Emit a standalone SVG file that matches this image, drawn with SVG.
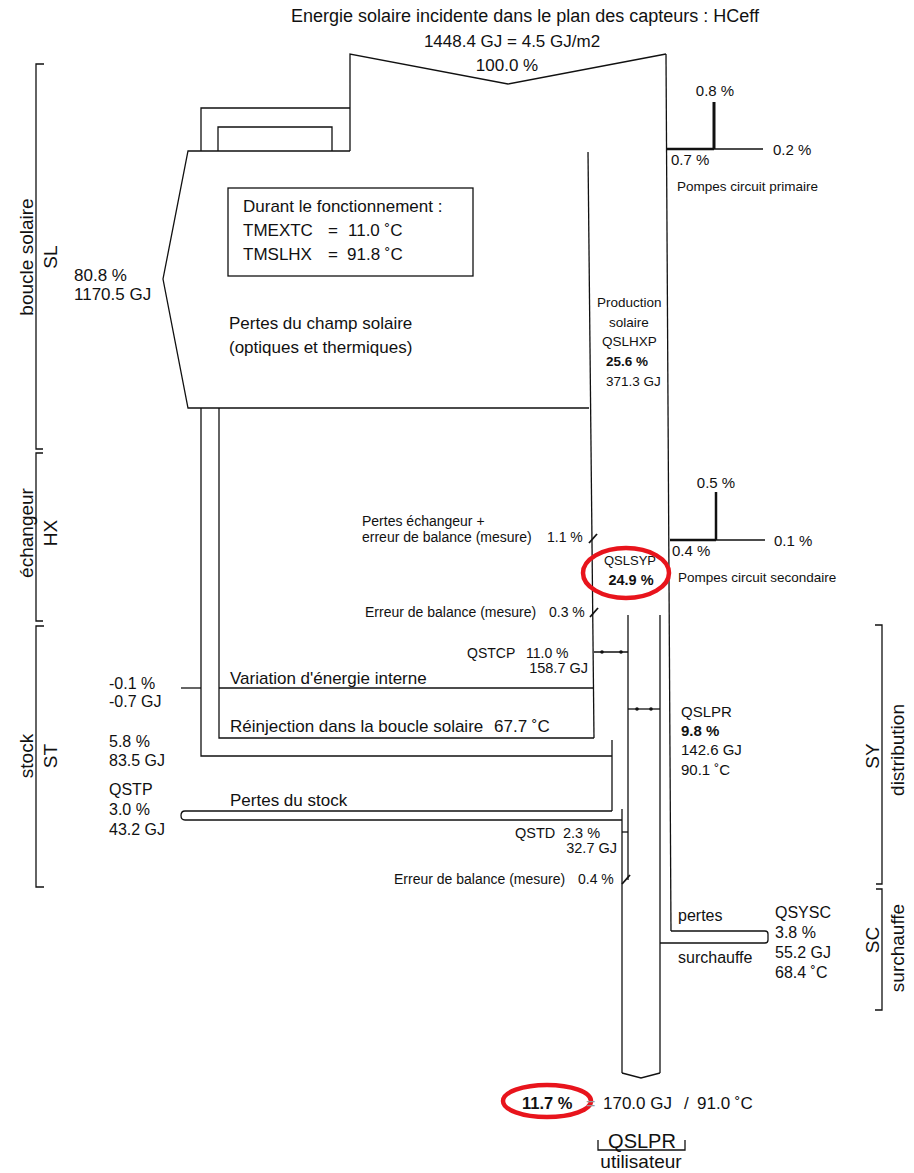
<svg xmlns="http://www.w3.org/2000/svg" width="914" height="1173" viewBox="0 0 914 1173">
<style>
  .ln{fill:none;stroke:#111;stroke-width:1.3;stroke-linejoin:miter}
  .thk{fill:none;stroke:#111;stroke-width:2.4}
  .t{font-family:"Liberation Sans",Arial,sans-serif;fill:#111}
  .f17{font-size:17px}
  .f16{font-size:16px}
  .f15{font-size:15px}
  .f14{font-size:14px}
  .f145{font-size:14.5px}
  .f13{font-size:13.5px}
  .b{font-weight:bold}
  .rot{font-family:"Liberation Sans",Arial,sans-serif;fill:#111;font-size:19px;text-anchor:middle}
  .red{fill:none;stroke:#e8141c;stroke-width:4.5}
  .dot{fill:#111}
</style>
<rect width="914" height="1173" fill="#fff"/>

<g id="connectors">
  <!-- incident energy arrow -->
  <path class="ln" d="M350,151 V54 L508,84 L666,54"/>
  <path class="ln" d="M666,54 L671,931"/>
  <!-- solar field losses arrow -->
  <path class="ln" d="M350,151 H188 L163,279 L188,408 H589"/>
  <path class="ln" d="M588,152 L594,738"/>
  <!-- loops -->
  <path class="ln" d="M201,151 V108 H350"/>
  <path class="ln" d="M218,151 V127 H332 V151"/>
  <path class="ln" d="M201,408 V756 H612"/>
  <path class="ln" d="M612,740 V811"/>
  <path class="ln" d="M219,408 V738 H594"/>
  <path class="ln" d="M219,688 H594"/>
  <path class="ln" d="M181,688 H201"/>
  <!-- stock losses -->
  <path class="ln" d="M612,811 H185 Q181,811 181,815.5 Q181,820 185,820 H622"/>
  <path class="ln" d="M622,809 V1073"/>
  <!-- distribution column -->
  <path class="ln" d="M628,615 V880"/>
  <path class="ln" d="M660,615 V1073"/>
  <path class="ln" d="M622,1073 L641,1078 L660,1073"/>
  <path class="ln" d="M622,832 H628"/>
  <!-- surchauffe -->
  <path class="ln" d="M671,931 H765 Q768,931 768,934 V940 Q768,943 765,943 H660"/>
  <!-- flows with dots -->
  <path class="ln" d="M594,652 H628"/>
  <circle class="dot" cx="602" cy="652" r="1.8"/>
  <circle class="dot" cx="621" cy="652" r="1.8"/>
  <path class="ln" d="M628,709 H660"/>
  <circle class="dot" cx="637" cy="709" r="1.8"/>
  <circle class="dot" cx="651" cy="709" r="1.8"/>
  <!-- break ticks -->
  <path class="ln" style="stroke-width:1.8" d="M589,543 L597,534"/>
  <path class="ln" style="stroke-width:1.8" d="M590,617 L598,608"/>
  <path class="ln" style="stroke-width:1.8" d="M622,884 L630,875"/>
  <!-- pumps primary -->
  <path class="thk" d="M667,149 H714"/>
  <path class="ln" d="M714,149 H763"/>
  <path class="ln" style="stroke-width:3" d="M714,102 V149"/>
  <!-- pumps secondary -->
  <path class="thk" d="M670,540 H716"/>
  <path class="ln" d="M716,540 H765"/>
  <path class="ln" style="stroke-width:2.5" d="M716,492 V540"/>
</g>

<g id="title">
  <text class="t" style="font-size:18px" x="525" y="22" text-anchor="middle">Energie solaire incidente dans le plan des capteurs : HCeff</text>
  <text class="t f17" x="512" y="47" text-anchor="middle">1448.4 GJ = 4.5 GJ/m2</text>
  <text class="t f17" x="507" y="71" text-anchor="middle">100.0 %</text>
</g>

<g id="pompes-primaire">
  <text class="t f15" x="715" y="96" text-anchor="middle">0.8 %</text>
  <text class="t f15" x="773" y="155">0.2 %</text>
  <text class="t f15" x="671" y="165">0.7 %</text>
  <text class="t f13" x="677" y="191">Pompes circuit primaire</text>
</g>

<g id="pertes-champ">
  <rect class="ln" x="228" y="188" width="245" height="88"/>
  <text class="t f17" x="243" y="212">Durant le fonctionnement :</text>
  <text class="t f17" y="236"><tspan x="243">TMEXTC</tspan><tspan x="328">=</tspan><tspan x="348">11.0 ˚C</tspan></text>
  <text class="t f17" y="260"><tspan x="243">TMSLHX</tspan><tspan x="328">=</tspan><tspan x="347">91.8 ˚C</tspan></text>
  <text class="t f17" x="229" y="329">Pertes du champ solaire</text>
  <text class="t f17" x="229" y="353">(optiques et thermiques)</text>
  <text class="t f17" x="74" y="281">80.8 %</text>
  <text class="t f17" x="74" y="300">1170.5 GJ</text>
</g>

<g id="production-solaire">
  <text class="t f13" x="597" y="307">Production</text>
  <text class="t f13" x="609" y="327">solaire</text>
  <text class="t f13" x="602" y="346">QSLHXP</text>
  <text class="t f13 b" x="606" y="366">25.6 %</text>
  <text class="t f13" x="606" y="386">371.3 GJ</text>
</g>

<g id="echangeur">
  <text class="t f14" x="362" y="526">Pertes échangeur +</text>
  <text class="t f14" x="362" y="542">erreur de balance (mesure)<tspan x="547">1.1 %</tspan></text>
  <text class="t" style="font-size:13px" x="630" y="565" text-anchor="middle">QSLSYP</text>
  <text class="t b" style="font-size:14.5px" x="631" y="585" text-anchor="middle">24.9 %</text>
  <ellipse class="red" cx="626" cy="573" rx="43" ry="25"/>
  <text class="t f14" x="365" y="617">Erreur de balance (mesure)<tspan x="549">0.3 %</tspan></text>
</g>

<g id="pompes-secondaire">
  <text class="t f15" x="716" y="488" text-anchor="middle">0.5 %</text>
  <text class="t f15" x="774" y="546">0.1 %</text>
  <text class="t f15" x="672" y="556">0.4 %</text>
  <text class="t f13" x="678" y="582">Pompes circuit secondaire</text>
</g>

<g id="stock">
  <text class="t f14" y="658"><tspan x="467">QSTCP</tspan><tspan x="526">11.0 %</tspan></text>
  <text class="t f145" x="588" y="673" text-anchor="end">158.7 GJ</text>
  <text class="t f17" x="230" y="684">Variation d'énergie interne</text>
  <text class="t f17" x="230" y="732">Réinjection dans la boucle solaire<tspan x="494">67.7 ˚C</tspan></text>
  <text class="t f16" x="109" y="689">-0.1 %</text>
  <text class="t f16" x="109" y="707">-0.7 GJ</text>
  <text class="t f16" x="109" y="747">5.8 %</text>
  <text class="t f16" x="109" y="766">83.5 GJ</text>
  <text class="t f16" x="109" y="795">QSTP</text>
  <text class="t f16" x="109" y="815">3.0 %</text>
  <text class="t f16" x="109" y="835">43.2 GJ</text>
  <text class="t f17" x="230" y="806">Pertes du stock</text>
  <text class="t f145" y="838"><tspan x="515">QSTD</tspan><tspan x="563">2.3 %</tspan></text>
  <text class="t f145" x="617" y="853" text-anchor="end">32.7 GJ</text>
  <text class="t f14" x="394" y="884">Erreur de balance (mesure)<tspan x="578">0.4 %</tspan></text>
</g>

<g id="distribution">
  <text class="t f15" x="681" y="717">QSLPR</text>
  <text class="t f15 b" x="681" y="736">9.8 %</text>
  <text class="t f15" x="681" y="755">142.6 GJ</text>
  <text class="t f15" x="681" y="775">90.1 ˚C</text>
</g>

<g id="surchauffe">
  <text class="t f16" x="678" y="921">pertes</text>
  <text class="t f16" x="678" y="963">surchauffe</text>
  <text class="t f16" x="775" y="918">QSYSC</text>
  <text class="t f16" x="775" y="938">3.8 %</text>
  <text class="t f16" x="775" y="958">55.2 GJ</text>
  <text class="t f16" x="775" y="978">68.4 ˚C</text>
</g>

<g id="utilisateur">
  <text class="t b" style="font-size:16.5px" x="522" y="1109">11.7 %</text>
  <ellipse class="red" cx="547" cy="1101" rx="44" ry="16"/>
  <text class="t f16" x="586" y="1109" style="fill:#999">=</text>
  <text class="t f17" y="1109"><tspan x="603">170.0 GJ</tspan><tspan x="684">/</tspan><tspan x="697">91.0 ˚C</tspan></text>
  <text class="t" style="font-size:20px" x="642" y="1148" text-anchor="middle">QSLPR</text>
  <path class="ln" d="M598,1140 V1150 H685 V1140"/>
  <text class="t" style="font-size:19px" x="641" y="1168" text-anchor="middle">utilisateur</text>
</g>

<g id="brackets-left">
  <path class="ln" d="M44,64 H36 V449 H43"/>
  <path class="ln" d="M43,453 H36 V621 H43"/>
  <path class="ln" d="M44,626 H36 V887 H44"/>
  <text class="rot" transform="translate(33,257) rotate(-90)">boucle solaire</text>
  <text class="rot" transform="translate(57,257) rotate(-90)">SL</text>
  <text class="rot" transform="translate(33,533) rotate(-90)">échangeur</text>
  <text class="rot" transform="translate(57,533) rotate(-90)">HX</text>
  <text class="rot" transform="translate(33,756) rotate(-90)">stock</text>
  <text class="rot" transform="translate(57,756) rotate(-90)">ST</text>
</g>

<g id="brackets-right">
  <path class="ln" d="M875,625 H882 V884 H876"/>
  <path class="ln" d="M876,889 H882 V1010 H875"/>
  <text class="rot" transform="translate(879,756) rotate(-90)">SY</text>
  <text class="rot" transform="translate(904,750) rotate(-90)">distribution</text>
  <text class="rot" transform="translate(879,940) rotate(-90)">SC</text>
  <text class="rot" transform="translate(904,948) rotate(-90)">surchauffe</text>
</g>
</svg>
